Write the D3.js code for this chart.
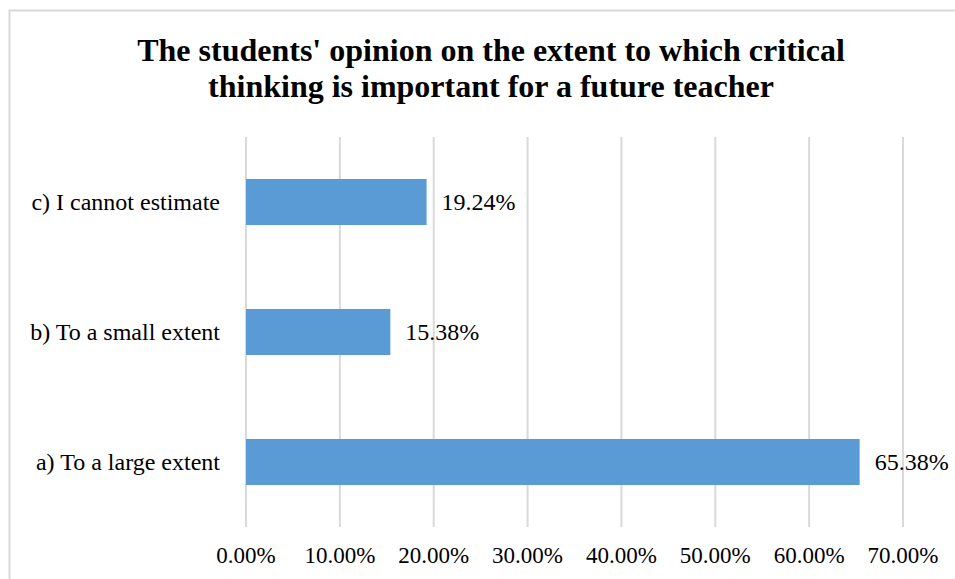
<!DOCTYPE html>
<html>
<head>
<meta charset="utf-8">
<script src="https://cdn.jsdelivr.net/npm/d3@7"></script>
<style>
  body { margin: 0; background: #fff; }
</style>
</head>
<body>
<div id="chart"></div>
<script>
  var categories = ['a) To a large extent', 'b) To a small extent', 'c) I cannot estimate'];
  var values = [65.38, 15.38, 19.24];
  var ticks = [0, 10, 20, 30, 40, 50, 60, 70];
  var titleLines = ["The students' opinion on the extent to which critical", 'thinking is important for a future teacher'];

  var width = 955, height = 579;
  var plot = { left: 246, right: 903, top: 137, bottom: 527 };
  var serif = "'Liberation Serif', 'DejaVu Serif', 'Times New Roman', serif";

  var chart = d3.select('#chart')
    .append('svg')
    .attr('width', width)
    .attr('height', height)
    .attr('font-family', serif);

  // outer frame (only top and left edge visible in the picture)
  chart.append('rect')
    .attr('x', 9.5)
    .attr('y', 10.5)
    .attr('width', 1000)
    .attr('height', 1000)
    .style('fill', 'none')
    .style('stroke', '#d9d9d9')
    .style('stroke-width', 2);

  chart.selectAll('.title')
    .data(titleLines)
    .enter()
    .append('text')
    .classed('title', true)
    .attr('font-weight', 'bold')
    .attr('font-size', 32)
    .attr('text-anchor', 'middle')
    .attr('x', 491)
    .attr('y', function (d, i) { return 61 + i * 36; })
    .text(function (d) { return d; });

  var x = d3.scaleLinear()
    .domain([0, 70])
    .range([plot.left, plot.right]);

  // reversed so a) sits at the bottom
  var y = d3.scaleBand()
    .domain(categories.slice().reverse())
    .range([plot.top, plot.bottom])
    .paddingInner(0.646)
    .paddingOuter(0.323);

  chart.append('g')
    .selectAll('line')
    .data(ticks)
    .enter()
    .append('line')
    .attr('x1', function (d) { return x(d); })
    .attr('x2', function (d) { return x(d); })
    .attr('y1', plot.top)
    .attr('y2', plot.bottom)
    .style('stroke', '#d9d9d9')
    .style('stroke-width', 2);

  chart.append('g')
    .selectAll('text')
    .data(ticks)
    .enter()
    .append('text')
    .attr('font-size', 23)
    .attr('text-anchor', 'middle')
    .attr('x', function (d) { return x(d); })
    .attr('y', 563)
    .text(function (d) { return d.toFixed(2) + '%'; });

  var rows = chart.append('g')
    .selectAll('.row')
    .data(categories.map(function (c, i) { return { cat: c, val: values[i] }; }))
    .enter()
    .append('g')
    .classed('row', true);

  rows.append('rect')
    .attr('x', x(0))
    .attr('y', function (d) { return y(d.cat); })
    .attr('width', function (d) { return x(d.val) - x(0); })
    .attr('height', y.bandwidth())
    .style('fill', '#5b9bd5');

  rows.append('text')
    .attr('font-size', 24)
    .attr('text-anchor', 'end')
    .attr('x', 220)
    .attr('y', function (d) { return y(d.cat) + y.bandwidth() / 2 + 8; })
    .text(function (d) { return d.cat; });

  rows.append('text')
    .attr('font-size', 24)
    .attr('x', function (d) { return x(d.val) + 15; })
    .attr('y', function (d) { return y(d.cat) + y.bandwidth() / 2 + 8; })
    .text(function (d) { return d.val.toFixed(2) + '%'; });
</script>
</body>
</html>
